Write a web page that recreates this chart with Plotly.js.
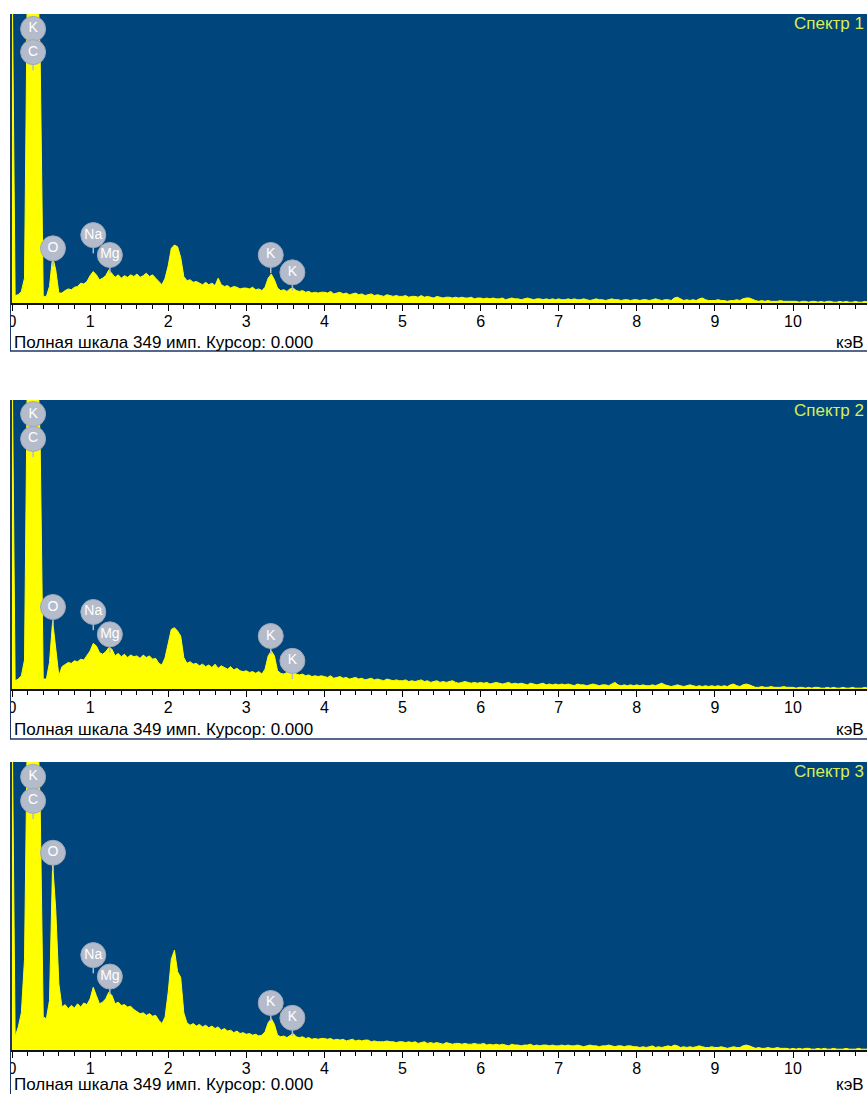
<!DOCTYPE html>
<html>
<head>
<meta charset="utf-8">
<script src="https://cdn.plot.ly/plotly-3.0.1.min.js"></script>
<style>
  html, body { margin: 0; padding: 0; background: #ffffff; }
  #chart { width: 867px; height: 1094px; }
</style>
</head>
<body>
<div id="chart"></div>
<script>
// ---------------- DATA ----------------
const energyStart = 0;        // keV, first channel
const channelWidth = 0.04;    // keV per channel
const fullScale = 349;        // counts, "Полная шкала 349 имп."
const tickValues = [0, 1, 2, 3, 4, 5, 6, 7, 8, 9, 10, 11];
const tickLabels = ['0', '1', '2', '3', '4', '5', '6', '7', '8', '9', '10', '11'];
const spectrumNames = ['Спектр 1', 'Спектр 2', 'Спектр 3'];
const footerText = 'Полная шкала 349 имп. Курсор: 0.000';
const unitText = 'кэВ';

// counts per channel, 25 channels per keV row
const spectrum1 = [
  420, 9, 10, 14, 30, 420, 420, 420, 420, 300, 8, 8, 20, 56, 40, 12, 12, 15, 17, 16, 19, 20, 24, 23, 26,
  33, 38, 34, 28, 30, 33, 40, 36, 31, 34, 30, 33, 31, 34, 32, 35, 31, 33, 36, 32, 34, 30, 26, 22, 30,
  45, 66, 70, 68, 55, 32, 27, 28, 25, 26, 24, 22, 25, 22, 24, 21, 30, 22, 20, 21, 18, 20, 19, 17, 18,
  18, 17, 19, 16, 17, 15, 19, 30, 35, 28, 18, 15, 16, 14, 17, 18, 15, 14, 15, 13, 14, 12, 13, 12, 13,
  13, 12, 14, 11, 12, 13, 11, 12, 10, 11, 12, 10, 11, 9, 10, 11, 9, 10, 9, 8, 10, 9, 8, 9, 8,
  8, 9, 7, 8, 8, 7, 9, 7, 8, 7, 6, 8, 7, 6, 7, 7, 6, 7, 6, 7, 6, 6, 7, 5, 6,
  6, 5, 6, 5, 6, 5, 5, 6, 4, 5, 6, 5, 5, 4, 5, 6, 5, 4, 5, 5, 4, 5, 4, 5, 4,
  5, 4, 4, 5, 4, 5, 4, 4, 5, 4, 3, 4, 5, 4, 4, 3, 4, 5, 4, 4, 3, 4, 4, 3, 4,
  4, 3, 4, 4, 3, 4, 5, 4, 3, 4, 4, 3, 6, 7, 5, 3, 4, 3, 4, 3, 5, 6, 4, 3, 3,
  3, 4, 3, 3, 2, 3, 3, 4, 3, 5, 6, 6, 4, 3, 2, 3, 2, 3, 2, 2, 2, 3, 2, 2, 2,
  2, 2, 1, 2, 2, 1, 2, 2, 1, 2, 1, 2, 2, 1, 1, 2, 1, 2, 1, 1, 2, 1, 1, 2, 1
];
const spectrum2 = [
  420, 10, 12, 16, 35, 420, 420, 420, 420, 300, 12, 12, 32, 82, 50, 16, 27, 30, 32, 31, 34, 33, 36, 35, 40,
  46, 55, 52, 44, 42, 45, 50, 48, 40, 43, 39, 42, 38, 41, 39, 40, 37, 41, 38, 40, 36, 37, 31, 29, 38,
  55, 72, 74, 70, 64, 38, 31, 33, 30, 31, 28, 30, 27, 29, 26, 30, 25, 28, 26, 24, 27, 23, 25, 22, 21,
  22, 20, 21, 19, 21, 18, 24, 40, 46, 40, 22, 19, 18, 20, 21, 22, 18, 17, 18, 16, 17, 15, 16, 15, 16,
  15, 14, 16, 13, 14, 15, 13, 14, 12, 13, 14, 12, 13, 11, 12, 13, 11, 12, 11, 10, 12, 11, 10, 11, 10,
  10, 11, 9, 10, 9, 10, 11, 9, 10, 8, 9, 10, 8, 9, 8, 9, 10, 8, 7, 8, 9, 8, 7, 8, 7,
  8, 7, 8, 6, 7, 8, 7, 6, 7, 8, 6, 7, 6, 7, 6, 5, 7, 6, 5, 6, 7, 5, 6, 5, 6,
  5, 6, 5, 6, 5, 4, 6, 5, 5, 4, 5, 6, 5, 4, 5, 5, 4, 6, 8, 5, 4, 5, 4, 5, 4,
  5, 4, 5, 4, 4, 5, 4, 6, 7, 5, 4, 3, 4, 5, 4, 3, 4, 5, 4, 3, 4, 3, 4, 3, 4,
  3, 4, 3, 4, 3, 5, 6, 4, 3, 5, 6, 5, 3, 2, 2, 3, 2, 2, 3, 2, 2, 2, 3, 2, 2,
  2, 1, 2, 2, 1, 2, 1, 2, 2, 1, 1, 2, 1, 2, 1, 1, 2, 1, 1, 2, 1, 1, 1, 2, 1
];
const spectrum3 = [
  420, 16, 28, 45, 110, 420, 420, 420, 420, 300, 40, 38, 60, 226, 170, 80, 52, 55, 50, 54, 51, 56, 52, 57, 55,
  62, 76, 66, 56, 58, 62, 70, 66, 56, 58, 54, 55, 52, 53, 49, 47, 44, 45, 42, 44, 41, 42, 36, 32, 40,
  70, 110, 121, 95, 88, 45, 33, 30, 32, 29, 31, 28, 30, 27, 29, 26, 28, 24, 26, 23, 24, 21, 23, 20, 21,
  19, 20, 18, 19, 17, 18, 22, 33, 38, 31, 18, 16, 17, 15, 18, 20, 16, 15, 16, 14, 15, 13, 14, 13, 14,
  14, 13, 14, 12, 13, 12, 13, 11, 12, 13, 11, 12, 11, 12, 12, 10, 11, 10, 10, 10, 11, 10, 10, 9, 10,
  10, 9, 10, 9, 10, 8, 9, 10, 8, 9, 8, 9, 8, 7, 9, 8, 7, 8, 8, 7, 8, 7, 7, 8, 7,
  7, 8, 6, 7, 6, 7, 6, 7, 6, 5, 7, 6, 6, 5, 6, 6, 7, 5, 6, 5, 6, 6, 5, 6, 5,
  5, 6, 5, 6, 5, 5, 6, 5, 4, 5, 6, 5, 5, 4, 5, 5, 6, 5, 4, 5, 5, 4, 5, 5, 4,
  4, 3, 4, 3, 4, 5, 3, 4, 3, 4, 5, 4, 6, 5, 3, 4, 3, 4, 3, 4, 5, 4, 3, 3, 4,
  3, 3, 4, 3, 2, 3, 4, 3, 3, 5, 6, 5, 3, 2, 3, 2, 2, 3, 2, 2, 3, 2, 2, 2, 1,
  2, 1, 2, 1, 2, 2, 1, 1, 2, 1, 2, 1, 1, 2, 1, 1, 1, 2, 1, 1, 1, 2, 1, 1, 1
];

// element markers
const labelNames = ['K', 'C', 'O', 'Na', 'Mg', 'K', 'K'];
const labelEnergies = [0.27, 0.27, 0.525, 1.041, 1.253, 3.313, 3.59];
const labelHeights1 = [331, 303, 66, 82, 58, 58, 37];
const labelHeights2 = [332, 302, 99, 93, 66, 64, 34];
const labelHeights3 = [331, 302, 239, 115, 89, 57, 39];

// ---------------- LAYOUT ----------------
const W = 867, H = 1094;
const spectra = [spectrum1, spectrum2, spectrum3];
const labelHeights = [labelHeights1, labelHeights2, labelHeights3];
const panelTop = [14, 400, 762];
const panelAxis = [303, 689, 1050];
const footerY = [343, 729, 1084];
const nameY = [24, 410, 771];
const borderY = [351, 739, 1100];
const plotLeft = 10;
const pxPerKeV = 78.1;
const zeroPx = 12;
const xr = [(plotLeft - zeroPx) / pxPerKeV, (W - zeroPx) / pxPerKeV];
const py = p => 1 - p / H;
const px = p => p / W;

const blue = '#00457b';
const yellow = '#ffff00';
const font = 'Liberation Sans, Arial, sans-serif';

const traces = [];
const layout = {
  width: W, height: H,
  margin: {l: 0, r: 0, t: 0, b: 0},
  paper_bgcolor: '#ffffff',
  plot_bgcolor: blue,
  showlegend: false,
  annotations: [],
  shapes: []
};

for (let i = 0; i < 3; i++) {
  const n = i === 0 ? '' : String(i + 1);
  const xa = 'x' + n, ya = 'y' + n;
  traces.push({
    type: 'scatter', mode: 'lines',
    x0: energyStart, dx: channelWidth, y: spectra[i],
    fill: 'tozeroy', fillcolor: yellow,
    line: {color: yellow, width: 1},
    xaxis: xa, yaxis: ya, hoverinfo: 'skip'
  });
  traces.push({
    type: 'scatter', mode: 'markers+text',
    x: labelEnergies, y: labelHeights[i], text: labelNames,
    textposition: 'middle center',
    textfont: {family: font, size: 14, color: '#ffffff'},
    marker: {size: 25, color: '#b4bccb', line: {color: '#9ea8ba', width: 1}},
    error_y: {type: 'constant', symmetric: false, value: 0, valueminus: 22,
              width: 0, thickness: 1.5, color: '#b4bccb'},
    cliponaxis: false,
    xaxis: xa, yaxis: ya, hoverinfo: 'skip'
  });
  layout['xaxis' + n] = {
    domain: [px(plotLeft), 1], anchor: ya, range: xr,
    tickmode: 'array', tickvals: tickValues, ticktext: tickLabels,
    ticks: 'outside', ticklen: 6, tickwidth: 1, tickcolor: '#000000',
    ticklabelstandoff: -3,
    minor: {dtick: 0.2, ticks: 'outside', ticklen: 4, tickwidth: 1, tickcolor: '#000000', showgrid: false},
    showline: true, linecolor: '#111111', linewidth: 1.5,
    showgrid: false, zeroline: false,
    tickfont: {family: font, size: 16, color: '#000000'},
    fixedrange: true
  };
  layout['yaxis' + n] = {
    domain: [py(panelAxis[i]), py(panelTop[i])], anchor: xa,
    range: [0, fullScale],
    showticklabels: false, showgrid: false, zeroline: false, showline: false, ticks: '',
    fixedrange: true
  };
  layout.annotations.push({
    xref: 'paper', yref: 'paper', x: px(12), y: py(footerY[i]),
    xanchor: 'left', yanchor: 'middle', showarrow: false,
    text: footerText, font: {family: font, size: 17, color: '#000000'}
  });
  layout.annotations.push({
    xref: 'paper', yref: 'paper', x: px(866), y: py(footerY[i]),
    xanchor: 'right', yanchor: 'middle', showarrow: false,
    text: unitText, font: {family: font, size: 17, color: '#000000'}
  });
  layout.annotations.push({
    xref: 'paper', yref: 'paper', x: px(866), y: py(nameY[i]),
    xanchor: 'right', yanchor: 'middle', showarrow: false,
    text: spectrumNames[i], font: {family: font, size: 17, color: '#d8ee58'}
  });
  // white mask hiding the clipped "0" label, then frame lines
  layout.shapes.push({
    type: 'rect', xref: 'paper', yref: 'paper', layer: 'above',
    x0: 0, x1: px(10.5), y0: py(borderY[i] - 1), y1: py(panelAxis[i] + 1),
    fillcolor: '#ffffff', line: {width: 0}
  });
  layout.shapes.push({
    type: 'line', xref: 'paper', yref: 'paper', layer: 'above',
    x0: px(10.5), x1: px(10.5), y0: py(borderY[i]), y1: py(panelTop[i]),
    line: {color: '#1b3566', width: 1}
  });
  layout.shapes.push({
    type: 'line', xref: 'paper', yref: 'paper', layer: 'above',
    x0: px(10), x1: 1, y0: py(borderY[i]), y1: py(borderY[i]),
    line: {color: '#1b3566', width: 1.5}
  });
}

Plotly.newPlot('chart', traces, layout, {staticPlot: true, displayModeBar: false});
</script>
</body>
</html>
